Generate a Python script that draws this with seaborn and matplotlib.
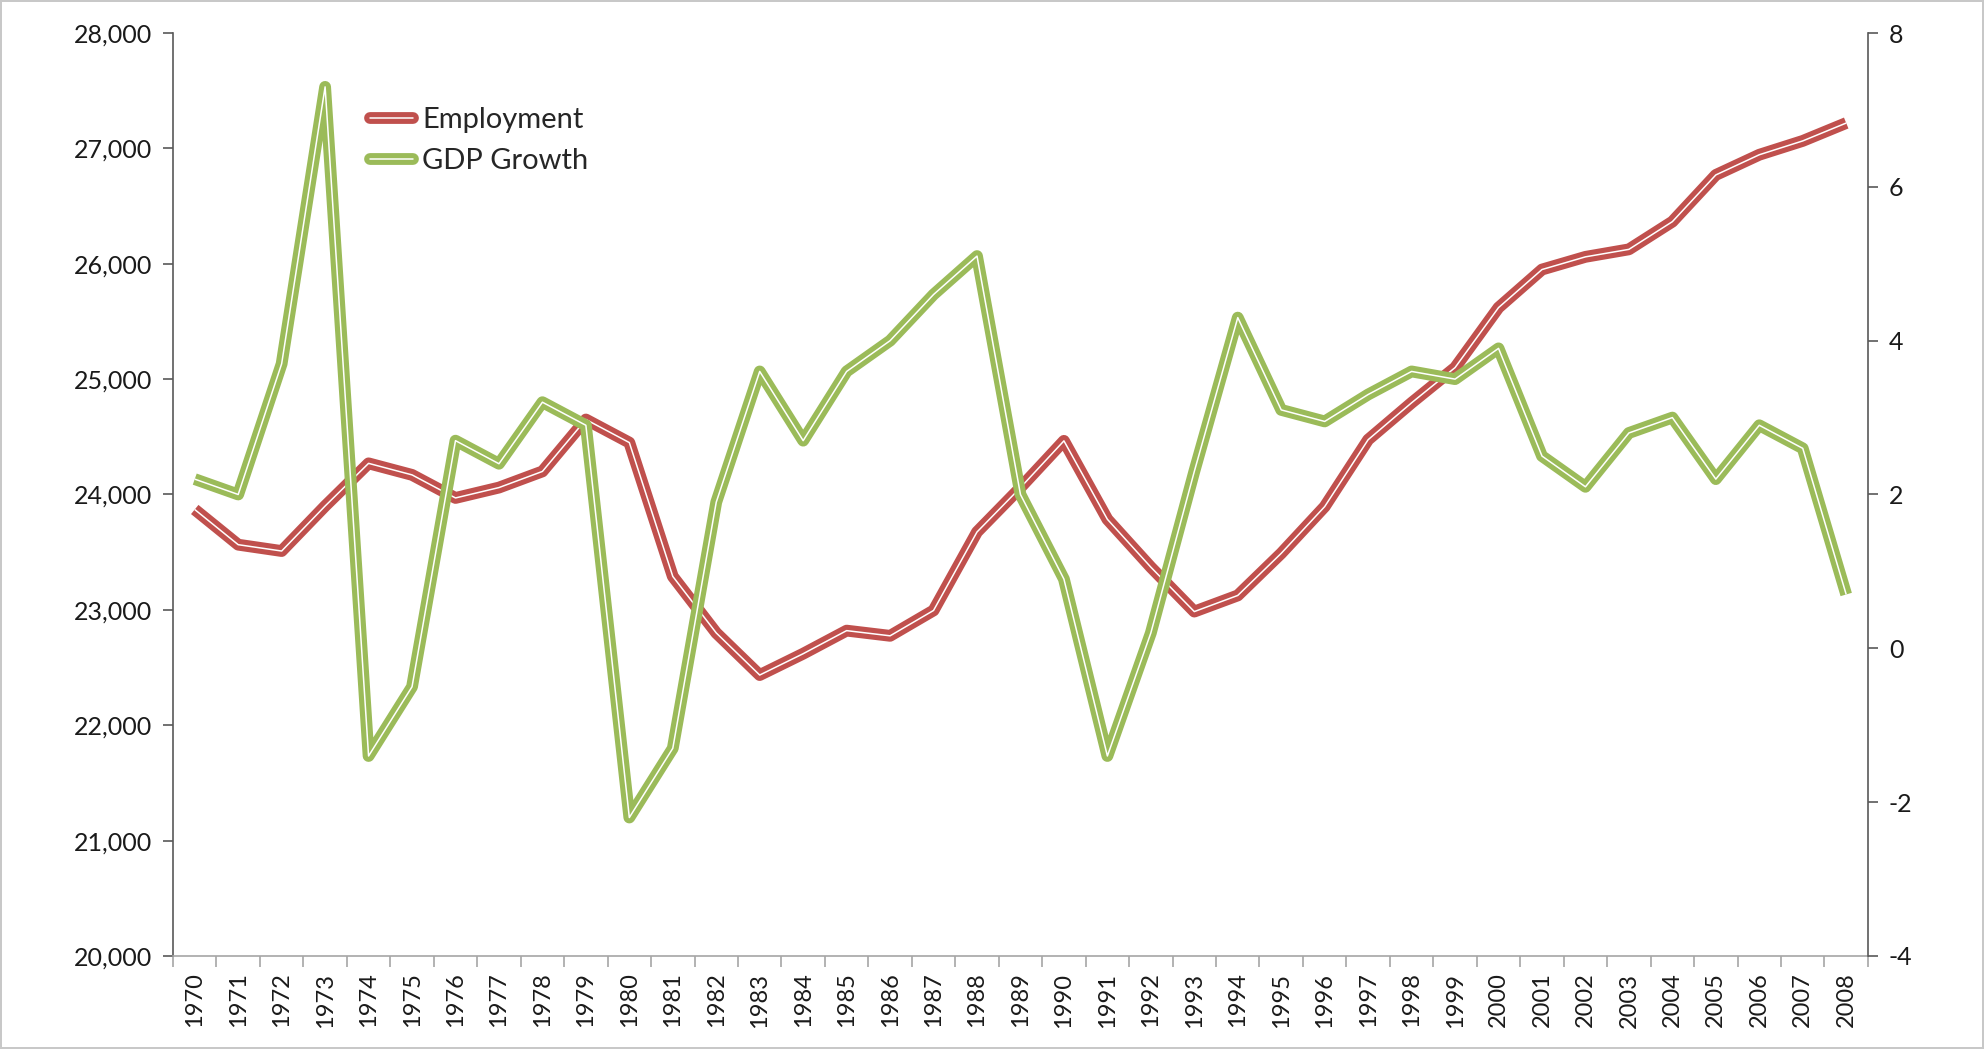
import seaborn as sns
import matplotlib.pyplot as plt
import matplotlib.patheffects as pe
from matplotlib.lines import Line2D
from matplotlib.ticker import FuncFormatter
import numpy as np
import pandas as pd

years = list(range(1970, 2009))
employment = [23870, 23565, 23510, 23900, 24270, 24170, 23970, 24060, 24200, 24650,
              24450, 23290, 22800, 22435, 22620, 22820, 22775, 22995, 23675, 24060,
              24465, 23785, 23370, 22985, 23125, 23490, 23895, 24475, 24795, 25100,
              25620, 25950, 26060, 26125, 26365, 26770, 26945, 27065, 27220]
gdp_growth = [2.2, 2.0, 3.7, 7.3, -1.4, -0.5, 2.7, 2.4, 3.2, 2.9,
              -2.2, -1.3, 1.9, 3.6, 2.7, 3.6, 4.0, 4.6, 5.1, 2.0,
              0.9, -1.4, 0.2, 2.3, 4.3, 3.1, 2.95, 3.3, 3.6, 3.5,
              3.9, 2.5, 2.1, 2.8, 3.0, 2.2, 2.9, 2.6, 0.7]

dane = pd.DataFrame({"rok": years, "employment": employment, "gdp": gdp_growth})

red = "#c0504d"
green = "#9bbb59"
szary = "#595959"
jasny = "#a6a6a6"

sns.set_style("white")
plt.rcParams["font.family"] = ["Lato", "DejaVu Sans"]
plt.rcParams["axes.unicode_minus"] = False


def podwojna(kolor):
    # kolorowa linia z białym paskiem w środku (styl Excela)
    return [pe.Stroke(linewidth=8.5, foreground=kolor), pe.Normal()]


fig, ax = plt.subplots(figsize=(19.84, 10.49), dpi=100)
fig.subplots_adjust(left=0.0872, right=0.9415, bottom=0.0887, top=0.9685)
ax2 = ax.twinx()

sns.lineplot(data=dane, x="rok", y="employment", ax=ax, color="white", lw=1.1,
             legend=False, solid_joinstyle="round", solid_capstyle="butt")
ax.lines[0].set_path_effects(podwojna(red))
sns.lineplot(data=dane, x="rok", y="gdp", ax=ax2, color="white", lw=1.1,
             legend=False, solid_joinstyle="round", solid_capstyle="butt")
ax2.lines[0].set_path_effects(podwojna(green))

ax.set_xlim(years[0] - 0.5, years[-1] + 0.5)
ax.set_ylim(20000, 28000)
ax2.set_ylim(-4, 8)
ax.set_yticks(np.arange(20000, 28001, 1000))
ax2.set_yticks(np.arange(-4, 9, 2))
ax.yaxis.set_major_formatter(FuncFormatter(lambda v, p: f"{int(v):,}"))
ax2.yaxis.set_major_formatter(FuncFormatter(lambda v, p: f"{int(v)}"))

ax.set_xticks(np.arange(years[0] - 0.5, years[-1] + 1, 1))
ax.set_xticklabels([])
ax.set_xticks(years, minor=True)
ax.set_xticklabels([str(r) for r in years], minor=True, rotation=90)

ax.set_xlabel("")
ax.set_ylabel("")
ax2.set_ylabel("")

for a in (ax, ax2):
    a.spines["top"].set_visible(False)
    a.spines["bottom"].set_visible(False)
ax.spines["right"].set_visible(False)
ax2.spines["left"].set_visible(False)
ax.spines["bottom"].set_visible(True)
ax.spines["bottom"].set_color(jasny)
ax.spines["left"].set_color(szary)
ax2.spines["right"].set_color(szary)
for s in ("left", "bottom"):
    ax.spines[s].set_linewidth(1.2)
ax2.spines["right"].set_linewidth(1.2)

ax.tick_params(axis="y", left=True, direction="out", length=7, width=1.2, color=szary,
               labelsize=18, labelcolor="#1a1a1a", pad=8)
ax2.tick_params(axis="y", right=True, direction="out", length=7, width=1.2, color=szary,
                labelsize=18, labelcolor="#1a1a1a", pad=8)
ax.tick_params(axis="x", which="major", bottom=True, direction="out", length=8,
               width=1.2, color=jasny)
ax.tick_params(axis="x", which="minor", bottom=True, length=0, pad=12,
               labelsize=17, labelcolor="#1a1a1a")

uchwyty = [Line2D([], [], color="white", lw=1.1, path_effects=podwojna(red)),
           Line2D([], [], color="white", lw=1.1, path_effects=podwojna(green))]
ax2.legend(uchwyty, ["Employment", "GDP Growth"], loc="upper left",
           bbox_to_anchor=(0.1005, 0.948), frameon=False, fontsize=21,
           handlelength=1.5, handletextpad=0.3, labelspacing=0.5)

fig.patch.set_edgecolor("#c8c8c8")
fig.patch.set_linewidth(1.5)
plt.savefig("out.png", dpi=100, edgecolor=fig.get_edgecolor())
